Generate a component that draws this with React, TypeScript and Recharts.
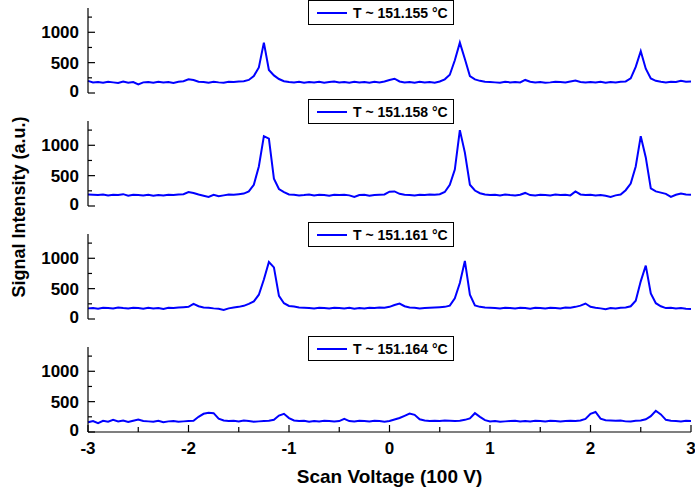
import React from 'react';
import { LineChart, Line, XAxis, YAxis, Legend, Label } from 'recharts';

const FONT = '"Liberation Sans", Arial, Helvetica, sans-serif';

// Scan voltage (100 V)
const voltage: number[] = [
  -3, -2.95, -2.9, -2.85, -2.8, -2.75, -2.7, -2.65, -2.6, -2.55,
  -2.5, -2.45, -2.4, -2.35, -2.3, -2.25, -2.2, -2.15, -2.1, -2.05,
  -2, -1.95, -1.9, -1.85, -1.8, -1.75, -1.7, -1.65, -1.6, -1.55,
  -1.5, -1.45, -1.4, -1.35, -1.3, -1.25, -1.2, -1.15, -1.1, -1.05,
  -1, -0.95, -0.9, -0.85, -0.8, -0.75, -0.7, -0.65, -0.6, -0.55,
  -0.5, -0.45, -0.4, -0.35, -0.3, -0.25, -0.2, -0.15, -0.1, -0.05,
  0, 0.05, 0.1, 0.15, 0.2, 0.25, 0.3, 0.35, 0.4, 0.45,
  0.5, 0.55, 0.6, 0.65, 0.7, 0.75, 0.8, 0.85, 0.9, 0.95,
  1, 1.05, 1.1, 1.15, 1.2, 1.25, 1.3, 1.35, 1.4, 1.45,
  1.5, 1.55, 1.6, 1.65, 1.7, 1.75, 1.8, 1.85, 1.9, 1.95,
  2, 2.05, 2.1, 2.15, 2.2, 2.25, 2.3, 2.35, 2.4, 2.45,
  2.5, 2.55, 2.6, 2.65, 2.7, 2.75, 2.8, 2.85, 2.9, 2.95,
  3,
];

const intensity155: number[] = [
  200, 175, 180, 170, 185, 175, 165, 190, 170, 180,
  140, 175, 180, 170, 185, 175, 180, 165, 185, 195,
  225, 215, 185, 180, 170, 185, 175, 170, 185, 180,
  190, 195, 215, 280, 420, 830, 380, 290, 230, 195,
  180, 175, 185, 170, 180, 175, 185, 170, 180, 190,
  175, 180, 170, 185, 175, 180, 170, 185, 175, 190,
  215, 235, 190, 175, 180, 170, 185, 175, 180, 170,
  190, 225, 300, 540, 830, 560, 280, 225, 200, 185,
  180, 175, 170, 185, 175, 180, 175, 215, 185, 175,
  180, 170, 175, 185, 180, 175, 190, 205, 180, 175,
  180, 175, 185, 170, 180, 175, 185, 190, 240, 430,
  690, 400, 240, 200, 185, 175, 185, 180, 200, 185,
  190,
];

const intensity158: number[] = [
  190, 185, 180, 190, 175, 185, 180, 195, 170, 185,
  180, 175, 185, 170, 180, 175, 185, 180, 190, 195,
  230, 215, 190, 170, 150, 185, 160, 175, 190, 185,
  195, 205, 240, 350, 650, 1150, 1110, 450, 280, 230,
  190, 185, 175, 180, 190, 175, 185, 180, 170, 185,
  180, 185, 175, 150, 180, 185, 170, 180, 185, 190,
  235, 240, 200, 185, 180, 175, 185, 180, 190, 185,
  195, 230, 350, 600, 1250, 880, 350, 255, 210, 190,
  180, 185, 175, 190, 180, 175, 185, 215, 180, 175,
  185, 180, 175, 190, 180, 185, 175, 240, 190, 180,
  185, 175, 180, 170, 150, 175, 190, 260, 370, 650,
  1150, 800, 290, 240, 220, 200, 150, 185, 205, 190,
  185,
];

const intensity161: number[] = [
  175, 180, 170, 185, 180, 175, 190, 180, 175, 185,
  180, 170, 185, 175, 180, 165, 185, 180, 190, 195,
  200, 250, 210, 190, 185, 175, 170, 150, 175, 190,
  200, 217, 250, 290, 400, 650, 939, 850, 380, 260,
  215, 205, 190, 185, 180, 175, 185, 180, 175, 185,
  180, 175, 185, 170, 180, 175, 185, 180, 190, 185,
  200, 230, 255, 210, 190, 185, 175, 180, 185, 190,
  195, 200, 220, 340, 594, 956, 400, 225, 200, 190,
  185, 180, 175, 185, 180, 175, 185, 180, 170, 185,
  180, 175, 185, 180, 175, 190, 185, 200, 220, 255,
  200, 185, 175, 160, 180, 175, 185, 190, 210, 300,
  620, 880, 420, 260, 210, 180, 185, 175, 180, 170,
  165,
];

const intensity164: number[] = [
  160, 180, 144, 185, 170, 200, 175, 190, 165, 185,
  206, 180, 175, 170, 185, 160, 175, 180, 170, 175,
  180, 185, 250, 300, 315, 310, 220, 190, 180, 185,
  175, 190, 180, 170, 175, 180, 185, 200, 270, 300,
  230, 190, 180, 185, 170, 180, 175, 185, 180, 175,
  180, 215, 180, 175, 185, 180, 175, 185, 180, 170,
  180, 205, 230, 267, 305, 283, 210, 190, 180, 185,
  180, 190, 185, 180, 185, 200, 225, 310, 250, 195,
  172, 180, 170, 175, 180, 185, 175, 180, 175, 185,
  180, 175, 185, 180, 175, 180, 185, 180, 190, 215,
  300, 330, 220, 195, 190, 185, 190, 175, 172, 185,
  190, 210, 260, 350, 290, 200, 185, 180, 175, 185,
  183,
];

const temperatures: string[] = ['151.155', '151.158', '151.161', '151.164'];
const seriesList: number[][] = [intensity155, intensity158, intensity161, intensity164];

const xTicks: number[] = [-3, -2.5, -2, -1.5, -1, -0.5, 0, 0.5, 1, 1.5, 2, 2.5, 3];
const yTicks: number[] = [0, 250, 500, 750, 1000, 1250];
const yDomain: [number, number] = [0, 1400];
const xDomain: [number, number] = [-3, 3];

// layout
const PANEL_STEP = 113;
const LEGEND_TOPS = [14, 0, 10, 11];
const AXIS = '#000';
const AXIS_W = 1.2;

const textStyle = { fontFamily: FONT, fontWeight: 700, fill: '#000' } as const;

const LeftTick = (props: any) => {
  const { x, y, payload } = props;
  const major = payload.value % 500 === 0;
  return (
    <g>
      <line x1={x + 9} x2={x + 9 + (major ? 7 : 4)} y1={y} y2={y} stroke={AXIS} strokeWidth={AXIS_W} />
      {major && (
        <text x={x} y={y} dy={payload.value === 0 ? '0.26em' : '0.36em'} textAnchor="end" fontSize={17} style={textStyle}>
          {payload.value}
        </text>
      )}
    </g>
  );
};

const RightTick = (props: any) => {
  const { x, y, payload } = props;
  const major = payload.value % 500 === 0;
  return <line x1={x} x2={x - (major ? 7 : 4)} y1={y} y2={y} stroke={AXIS} strokeWidth={AXIS_W} />;
};

const TopTick = (props: any) => {
  const { x, y, payload } = props;
  const major = Number.isInteger(payload.value);
  return <line x1={x} x2={x} y1={y} y2={y + (major ? 7 : 5)} stroke={AXIS} strokeWidth={AXIS_W} />;
};

const BottomTick = (props: any) => {
  const { x, y, payload, showLabel } = props;
  const major = Number.isInteger(payload.value);
  return (
    <g>
      <line x1={x} x2={x} y1={y} y2={y - (major ? 7 : 5)} stroke={AXIS} strokeWidth={AXIS_W} />
      {showLabel && major && (
        <text x={x} y={y + 21.5} textAnchor="middle" fontSize={17} style={textStyle}>
          {String(payload.value)}
        </text>
      )}
    </g>
  );
};

const makeLegend = (temp: string) => () => (
  <div
    style={{
      width: 146,
      height: 25,
      boxSizing: 'border-box',
      border: '1px solid #000',
      background: '#fff',
      display: 'flex',
      alignItems: 'center',
      fontFamily: FONT,
      fontWeight: 700,
      fontSize: 14,
      color: '#000',
      whiteSpace: 'nowrap',
    }}
  >
    <svg width={30} height={4} style={{ marginLeft: 8, marginRight: 6, display: 'block' }}>
      <line x1={0} x2={30} y1={2} y2={2} stroke="#0000ff" strokeWidth={2} />
    </svg>
    <span>T ~ {temp} °C</span>
  </div>
);

const Panel = ({ index }: { index: number }) => {
  const last = index === 3;
  const values = seriesList[index];
  const data = voltage.map((v, i) => ({ v, y: values[i] }));
  const height = last ? 162 : 119;
  return (
    <div style={{ position: 'absolute', left: 0, top: PANEL_STEP * index - 14 }}>
      <LineChart
        width={695}
        height={height}
        data={data}
        margin={{ top: 22, right: 4, bottom: last ? 0 : 12, left: 0 }}
      >
        <XAxis
          dataKey="v"
          type="number"
          domain={xDomain}
          ticks={xTicks}
          interval={0}
          height={last ? 55 : 0}
          tickSize={0}
          tickMargin={0}
          tickLine={false}
          axisLine={{ stroke: AXIS, strokeWidth: AXIS_W }}
          tick={(p: any) => <BottomTick {...p} showLabel={last} />}
        >
          {last && (
            <Label
              value="Scan Voltage (100 V)"
              position="insideBottom"
              offset={4}
              style={{ ...textStyle, fontSize: 19 }}
            />
          )}
        </XAxis>
        <XAxis
          xAxisId="top"
          orientation="top"
          dataKey="v"
          type="number"
          domain={xDomain}
          allowDataOverflow
          ticks={xTicks}
          interval={0}
          height={0}
          tickSize={0}
          tickMargin={0}
          tickLine={false}
          axisLine={{ stroke: AXIS, strokeWidth: AXIS_W }}
          tick={(p: any) => <TopTick {...p} />}
        />
        <YAxis
          type="number"
          domain={yDomain}
          ticks={yTicks}
          interval={0}
          width={88}
          tickSize={0}
          tickMargin={9}
          tickLine={false}
          axisLine={{ stroke: AXIS, strokeWidth: AXIS_W }}
          tick={(p: any) => <LeftTick {...p} />}
        />
        <YAxis
          yAxisId="right"
          orientation="right"
          type="number"
          domain={yDomain}
          allowDataOverflow
          ticks={yTicks}
          interval={0}
          width={0}
          tickSize={0}
          tickMargin={0}
          tickLine={false}
          axisLine={{ stroke: AXIS, strokeWidth: AXIS_W }}
          tick={(p: any) => <RightTick {...p} />}
        />
        <Legend
          layout="vertical"
          align="center"
          verticalAlign="middle"
          content={makeLegend(temperatures[index])}
          wrapperStyle={{ left: 308, top: LEGEND_TOPS[index], width: 146, height: 25 }}
        />
        <Line
          type="linear"
          dataKey="y"
          stroke="#0000ff"
          strokeWidth={2}
          dot={false}
          activeDot={false}
          isAnimationActive={false}
        />
      </LineChart>
    </div>
  );
};

export default function App() {
  return (
    <div
      style={{
        position: 'absolute',
        left: 0,
        top: 0,
        width: 695,
        height: 491,
        overflow: 'hidden',
        background: '#fff',
      }}
    >
      {[0, 1, 2, 3].map((i) => (
        <Panel key={i} index={i} />
      ))}
      <svg width={695} height={491} style={{ position: 'absolute', left: 0, top: 0, pointerEvents: 'none' }}>
        <text
          x={24.5}
          y={207}
          transform="rotate(-90, 24.5, 207)"
          textAnchor="middle"
          fontSize={18}
          style={textStyle}
        >
          Signal Intensity (a.u.)
        </text>
      </svg>
    </div>
  );
}
